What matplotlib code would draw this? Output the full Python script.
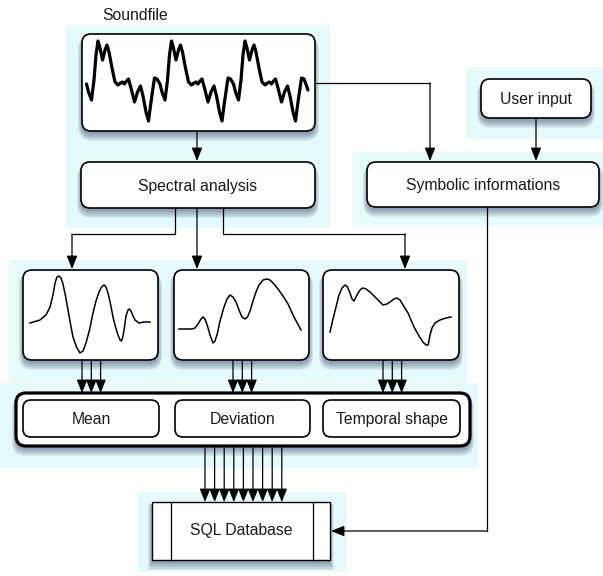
import matplotlib
matplotlib.use("Agg")
import matplotlib.pyplot as plt
from matplotlib.patches import FancyBboxPatch, Rectangle

plt.rcParams['font.family'] = ['Liberation Sans', 'DejaVu Sans']

# --- data (pixel coordinates of the source image) ---
# one period of the sound file waveform: (dx, y), dx from the start x
wave_period = [(0, 84), (2, 92), (5, 100), (7.5, 80), (9.5, 55), (11.5, 41), (13.5, 48),
               (16, 60), (18.5, 50), (20.5, 45), (22.5, 52), (25.5, 68), (28.5, 82),
               (31.5, 85), (34, 83), (36, 82), (38, 84), (40, 81), (42, 79), (44.5, 88),
               (48, 102), (51, 92), (54, 86), (56.5, 96), (59.5, 112), (62, 121),
               (64.5, 102), (68, 78), (70.5, 79)]
wave_start = 86.5
wave_len = 73.5
wave_repeats = 3
wave_end = (308, 90)

mean_curve = [(30, 323), (40, 320), (46, 315), (50, 307), (53, 295), (55, 283), (57, 277),
              (59, 276), (61, 278), (63, 284), (65.5, 296), (68, 310), (70.5, 324), (73, 337),
              (76.5, 347), (80, 353), (83, 351), (86, 343), (89.5, 330), (93, 313), (96, 301),
              (99, 292), (101.5, 287), (104, 285), (106, 287), (108, 293), (110.5, 304),
              (113, 317), (115.5, 327), (118, 335), (120, 340), (121.5, 341), (123, 336),
              (124.5, 327), (126, 316), (128, 310), (129.5, 309), (131, 311), (133, 316),
              (135, 320), (139, 323), (144, 322), (150, 322)]
deviation_curve = [(179, 329), (192, 329), (195, 328), (198, 324), (201, 319), (203, 317),
                   (205, 319), (207.5, 326), (210, 335), (213, 343), (215, 341), (217.5, 333),
                   (220, 321), (224, 307), (227, 299), (230, 295), (233, 297), (236, 302),
                   (239, 310), (242, 317), (245, 319), (247.5, 317), (250, 311), (253, 301),
                   (256, 292), (259, 285), (263, 280), (267, 279), (270, 280), (274, 284),
                   (278, 289), (283, 296), (288, 304), (294, 317), (301, 330)]
temporal_curve = [(330, 332), (333, 319), (336, 307), (339, 295), (342, 288), (345, 285),
                  (347.5, 287), (350, 293), (352, 299), (354, 301), (356, 297), (358, 293),
                  (361, 289), (363, 288), (366, 289), (370, 292), (376, 298), (383, 305),
                  (387, 304), (390, 302), (394, 299), (397, 298), (400, 300), (403, 305),
                  (408, 313), (414, 327), (419, 336), (423, 342), (426, 345), (428, 345),
                  (429, 341), (430, 335), (432, 328), (435, 323), (440, 320), (446, 318),
                  (451, 317)]

feature_labels = ["Mean", "Deviation", "Temporal shape"]
n_feature_arrows = 3
n_db_arrows = 9

# --- layout ---
BG = '#e6fafe'
FS = 11.3
TXT = '#1a1a1a'
panels = [(66, 25, 330, 228), (353, 152, 603, 226), (466, 67, 603, 139),
          (9, 260, 467, 382), (0, 383, 478, 468), (138, 492, 346, 572)]

fig = plt.figure(figsize=(6.03, 5.76), dpi=100)
ax = fig.add_axes([0, 0, 1, 1])
ax.set_xlim(0, 603)
ax.set_ylim(576, 0)
ax.axis('off')

for x0, y0, x1, y1 in panels:
    ax.add_patch(Rectangle((x0, y0), x1 - x0, y1 - y0, facecolor=BG, edgecolor='none', zorder=0))


def shadow(x0, y0, x1, y1, rounded=True):
    for i in range(6):
        style = 'round,pad=%g,rounding_size=%g' % (i * 0.8, 9 + i) if rounded else 'square,pad=%g' % (i * 0.8)
        ax.add_patch(FancyBboxPatch((x0, y0 + 3 + i * 0.6), x1 - x0, y1 - y0, boxstyle=style,
                                    facecolor='#1c2c50', edgecolor='none', alpha=0.085, zorder=1))


def box(x0, y0, x1, y1, label=None, lw=1.2, shade=True, rad=9):
    if shade:
        shadow(x0, y0, x1, y1)
    ax.add_patch(FancyBboxPatch((x0, y0), x1 - x0, y1 - y0,
                                boxstyle='round,pad=0,rounding_size=%g' % rad,
                                facecolor='white', edgecolor='black', lw=lw, zorder=3))
    if label:
        ax.text((x0 + x1) / 2, (y0 + y1) / 2 + 1, label, ha='center', va='center',
                fontsize=FS, color=TXT, zorder=5)


def arrow(points, lw=0.9):
    xs = [p[0] for p in points]
    ys = [p[1] for p in points]
    if len(points) > 2:
        ax.plot(xs[:-1], ys[:-1], color='black', lw=lw, zorder=2, solid_joinstyle='miter')
    ax.annotate('', xy=points[-1], xytext=points[-2],
                arrowprops=dict(arrowstyle='-|>,head_length=0.8,head_width=0.32',
                                color='black', lw=lw, shrinkA=0, shrinkB=0,
                                mutation_scale=10), zorder=6)


# Soundfile
ax.text(102, 15, "Soundfile", ha='left', va='center', fontsize=FS, color=TXT)
box(82, 34, 315, 131)
wx, wy = [], []
for k in range(wave_repeats):
    for dx, y in wave_period:
        wx.append(wave_start + k * wave_len + dx)
        wy.append(y)
wx.append(wave_end[0])
wy.append(wave_end[1])
ax.plot(wx, wy, color='black', lw=2.3, zorder=4, solid_joinstyle='round', solid_capstyle='round')

box(81, 162, 315, 208, "Spectral analysis")
box(481, 79, 591, 118, "User input")
box(367, 162, 599, 207, "Symbolic informations")

arrow([(197, 131), (197, 161)])
arrow([(315, 83), (430, 83), (430, 161)])
arrow([(536, 118), (536, 161)])

# spectral analysis -> curves
arrow([(175, 208), (175, 234), (72, 234), (72, 269)])
arrow([(197, 208), (197, 269)])
arrow([(223, 208), (223, 234), (405, 234), (405, 269)])

curve_boxes = [(23, 270, 158, 360), (174, 270, 309, 360), (323, 270, 459, 360)]
for (x0, y0, x1, y1), curve in zip(curve_boxes, [mean_curve, deviation_curve, temporal_curve]):
    box(x0, y0, x1, y1)
    ax.plot([p[0] for p in curve], [p[1] for p in curve], color='black', lw=1.1, zorder=4,
            solid_joinstyle='round')

# container with feature boxes
shadow(16, 393, 470, 446)
ax.add_patch(FancyBboxPatch((16, 393), 454, 53, boxstyle='round,pad=0,rounding_size=10',
                            facecolor='white', edgecolor='black', lw=2.3, zorder=3))
feature_boxes = [(23, 400, 159, 437), (175, 400, 310, 437), (323, 400, 460, 437)]
for (x0, y0, x1, y1), label in zip(feature_boxes, feature_labels):
    box(x0, y0, x1, y1, label, shade=False, rad=8)

# curves -> features (three arrows each)
feature_arrow_x = [82, 233, 383]
for (x0, y0, x1, y1), ax0 in zip(curve_boxes, feature_arrow_x):
    for i in range(n_feature_arrows):
        arrow([(ax0 + i * 9.3, y1), (ax0 + i * 9.3, 393)])

# features -> database
for i in range(n_db_arrows):
    x = 205 + i * 9.6
    arrow([(x, 446), (x, 502)])

# SQL database
shadow(152, 502, 330, 560, rounded=False)
ax.add_patch(Rectangle((152, 502), 178, 58, facecolor='white', edgecolor='black', lw=1.0, zorder=3))
ax.plot([171, 171], [502, 560], color='black', lw=0.9, zorder=4)
ax.plot([313, 313], [502, 560], color='black', lw=0.9, zorder=4)
ax.text(241, 531, "SQL Database", ha='center', va='center', fontsize=FS, color=TXT, zorder=5)

# symbolic informations -> database
arrow([(487, 207), (487, 531), (331, 531)])

fig.savefig('out.png', dpi=100)
